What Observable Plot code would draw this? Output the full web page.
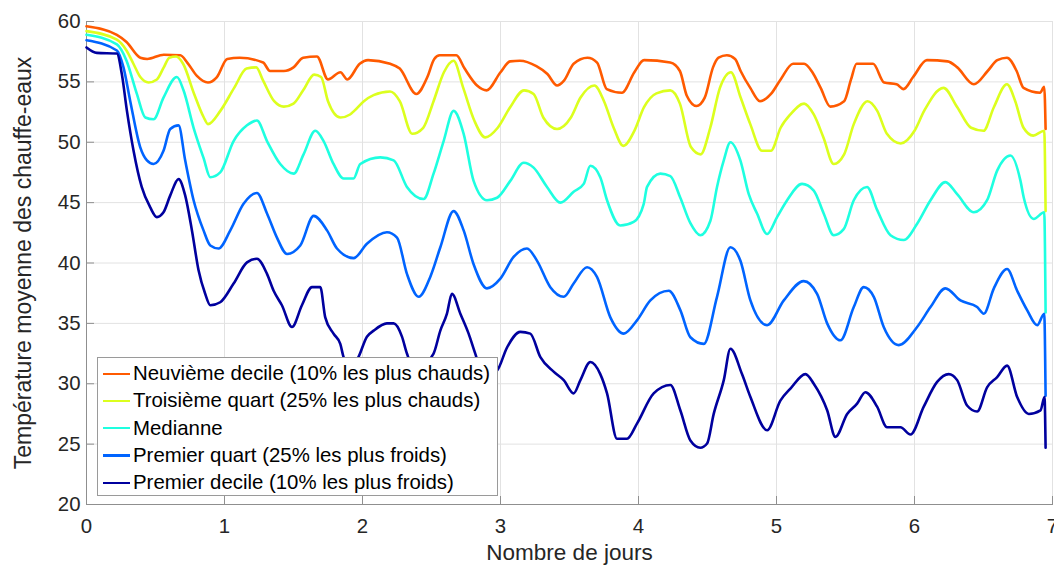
<!DOCTYPE html>
<html>
<head>
<meta charset="utf-8">
<script src="https://cdn.jsdelivr.net/npm/d3@7"></script>
<script src="https://cdn.jsdelivr.net/npm/@observablehq/plot@0.6"></script>
<style>
  html, body { margin: 0; padding: 0; background: #ffffff; }
  #wrap { position: relative; width: 1054px; height: 565px; font-family: "Liberation Sans", Arial, Helvetica, sans-serif; }
  #legend { position: absolute; left: 97px; top: 357px; width: 401px; height: 139px; box-sizing: border-box;
            border: 1px solid #9a9a9a; background: #ffffff; padding-top: 2px; }
  .row { height: 27.3px; display: flex; align-items: center; font-size: 20.4px; color: #000; white-space: nowrap; }
  .sw { width: 27px; height: 2.2px; margin-left: 5px; margin-right: 3px; }
</style>
</head>
<body>
<div id="wrap"><div id="chart"></div><div id="legend"></div></div>
<script>
// ---- tick labels / axis texts ----
const xTicks = [0, 1, 2, 3, 4, 5, 6, 7];
const yTicks = [20, 25, 30, 35, 40, 45, 50, 55, 60];
const xLabel = "Nombre de jours";
const yLabel = "Température moyenne des chauffe-eaux";

// ---- series names & colours ----
const seriesNames = [
  "Neuvième decile (10% les plus chauds)",
  "Troisième quart (25% les plus chauds)",
  "Medianne",
  "Premier quart (25% les plus froids)",
  "Premier decile (10% les plus froids)"
];
const seriesColors = ["#ff5a00", "#dcff1e", "#1effe0", "#0064ff", "#00009e"];

// ---- Neuvième decile ----
const d9Days = [0, 0.22, 0.29, 0.39, 0.44, 0.56, 0.68, 0.73, 0.80, 0.88, 0.945, 1.02, 1.11, 1.28, 1.33, 1.43, 1.50, 1.57, 1.67, 1.75, 1.84, 1.89, 1.98, 2.04, 2.20, 2.27, 2.39, 2.47, 2.52, 2.56, 2.68, 2.74, 2.83, 2.90, 3.00, 3.07, 3.14, 3.26, 3.34, 3.41, 3.46, 3.53, 3.63, 3.70, 3.77, 3.88, 3.97, 4.04, 4.23, 4.30, 4.35, 4.42, 4.48, 4.54, 4.58, 4.64, 4.70, 4.74, 4.81, 4.88, 4.96, 5.03, 5.12, 5.20, 5.26, 5.32, 5.39, 5.49, 5.54, 5.58, 5.70, 5.78, 5.87, 5.92, 5.99, 6.09, 6.24, 6.31, 6.43, 6.53, 6.60, 6.67, 6.74, 6.79, 6.91, 6.94, 6.95];
const d9Temp = [59.6, 58.9, 58.3, 57.0, 56.9, 57.25, 57.2, 56.6, 55.5, 54.95, 55.4, 56.9, 57.0, 56.6, 55.9, 55.9, 56.2, 57.0, 57.1, 55.2, 55.8, 55.2, 56.5, 56.8, 56.5, 56.1, 54.0, 55.4, 56.9, 57.2, 57.2, 56.1, 54.7, 54.3, 55.8, 56.7, 56.75, 56.3, 55.65, 54.7, 55.1, 56.5, 57.0, 56.6, 54.4, 54.1, 55.8, 56.8, 56.6, 55.9, 53.85, 53.0, 53.7, 56.2, 57.0, 57.2, 56.9, 55.9, 54.5, 53.4, 54.0, 55.2, 56.5, 56.5, 55.8, 54.5, 52.95, 53.4, 55.2, 56.5, 56.5, 54.95, 54.8, 54.4, 55.4, 56.8, 56.7, 56.2, 54.8, 55.9, 56.8, 57.0, 55.9, 54.5, 54.1, 54.6, 51.1];

// ---- Troisième quart ----
const q3Days = [0, 0.22, 0.29, 0.34, 0.39, 0.45, 0.51, 0.56, 0.60, 0.65, 0.70, 0.78, 0.85, 0.88, 0.97, 1.07, 1.16, 1.23, 1.28, 1.36, 1.43, 1.50, 1.57, 1.65, 1.70, 1.75, 1.84, 1.91, 1.94, 2.01, 2.08, 2.20, 2.27, 2.36, 2.44, 2.515, 2.59, 2.66, 2.73, 2.81, 2.89, 2.98, 3.07, 3.17, 3.24, 3.31, 3.41, 3.51, 3.58, 3.68, 3.75, 3.82, 3.89, 3.97, 4.04, 4.13, 4.23, 4.30, 4.38, 4.45, 4.52, 4.59, 4.67, 4.74, 4.81, 4.895, 4.96, 5.03, 5.10, 5.20, 5.27, 5.34, 5.415, 5.49, 5.56, 5.66, 5.73, 5.80, 5.90, 6.00, 6.07, 6.21, 6.31, 6.41, 6.50, 6.575, 6.67, 6.73, 6.79, 6.86, 6.94, 6.95];
const q3Temp = [59.2, 58.5, 57.6, 56.5, 55.4, 54.95, 55.2, 56.2, 57.0, 57.1, 56.5, 54.0, 52.05, 51.5, 52.6, 54.5, 56.1, 56.2, 55.1, 53.4, 52.95, 53.2, 54.3, 55.6, 55.4, 53.4, 52.05, 52.3, 52.6, 53.4, 53.9, 54.2, 53.4, 50.7, 51.2, 53.4, 55.8, 56.75, 54.5, 51.8, 50.4, 51.2, 52.9, 54.3, 54.0, 52.05, 51.1, 52.05, 53.7, 54.7, 53.4, 51.2, 49.7, 50.95, 52.9, 54.05, 54.3, 53.2, 49.6, 49.0, 51.2, 54.5, 55.8, 53.7, 51.5, 49.3, 49.3, 51.2, 52.3, 53.2, 52.3, 50.4, 48.2, 49.0, 51.5, 53.4, 52.6, 50.7, 49.9, 50.95, 52.6, 54.5, 52.9, 51.2, 50.95, 52.9, 54.8, 53.4, 51.2, 50.55, 50.95, 44.3];

// ---- Medianne ----
const medDays = [0, 0.22, 0.29, 0.365, 0.426, 0.486, 0.558, 0.655, 0.703, 0.776, 0.848, 0.897, 0.969, 1.066, 1.163, 1.235, 1.308, 1.404, 1.501, 1.573, 1.658, 1.718, 1.79, 1.863, 1.935, 1.984, 2.129, 2.226, 2.322, 2.443, 2.515, 2.588, 2.66, 2.733, 2.805, 2.902, 2.975, 3.071, 3.168, 3.24, 3.337, 3.434, 3.53, 3.603, 3.651, 3.723, 3.772, 3.868, 3.965, 4.038, 4.062, 4.158, 4.231, 4.303, 4.376, 4.448, 4.521, 4.569, 4.618, 4.666, 4.738, 4.799, 4.859, 4.932, 5.004, 5.077, 5.185, 5.27, 5.342, 5.415, 5.487, 5.56, 5.656, 5.729, 5.826, 5.922, 6.019, 6.116, 6.224, 6.309, 6.43, 6.526, 6.599, 6.695, 6.768, 6.792, 6.864, 6.94, 6.95];
const medTemp = [58.9, 58.1, 56.75, 54.0, 52.05, 51.9, 53.7, 55.4, 54.3, 51.2, 48.7, 47.1, 47.5, 50.1, 51.4, 51.8, 50.1, 48.2, 47.4, 49.0, 50.95, 50.1, 48.2, 47.0, 47.0, 48.2, 48.75, 48.5, 46.3, 45.3, 47.4, 50.1, 52.6, 50.7, 46.8, 45.2, 45.4, 46.8, 48.3, 47.9, 46.3, 45.0, 45.9, 46.55, 48.05, 47.1, 45.2, 43.1, 43.4, 44.9, 46.3, 47.4, 47.2, 45.4, 43.3, 42.3, 43.5, 46.3, 48.5, 50.0, 48.5, 45.7, 44.1, 42.4, 43.8, 45.2, 46.55, 46.0, 44.1, 42.3, 42.8, 45.2, 46.3, 44.4, 42.3, 41.9, 43.25, 45.2, 46.7, 45.7, 44.2, 45.2, 47.65, 48.9, 46.8, 45.4, 43.65, 44.2, 35.9];

// ---- Premier quart ----
const q1Days = [0, 0.22, 0.268, 0.317, 0.389, 0.438, 0.486, 0.558, 0.607, 0.667, 0.715, 0.776, 0.848, 0.897, 0.957, 1.042, 1.138, 1.235, 1.308, 1.38, 1.453, 1.549, 1.646, 1.743, 1.815, 1.936, 2.032, 2.177, 2.25, 2.322, 2.407, 2.491, 2.564, 2.66, 2.733, 2.805, 2.902, 2.999, 3.095, 3.192, 3.264, 3.361, 3.458, 3.53, 3.627, 3.699, 3.796, 3.893, 3.989, 4.086, 4.219, 4.303, 4.376, 4.473, 4.569, 4.666, 4.738, 4.811, 4.932, 5.053, 5.197, 5.294, 5.367, 5.463, 5.56, 5.632, 5.705, 5.777, 5.886, 6.019, 6.116, 6.224, 6.333, 6.454, 6.502, 6.575, 6.671, 6.744, 6.816, 6.889, 6.94, 6.95];
const q1Temp = [58.45, 57.6, 56.2, 53.4, 49.6, 48.5, 48.2, 49.3, 51.1, 51.4, 48.5, 45.2, 42.7, 41.45, 41.2, 42.7, 44.9, 45.8, 44.1, 42.1, 40.75, 41.45, 43.9, 42.7, 41.2, 40.4, 41.6, 42.55, 42.1, 39.1, 37.2, 38.85, 41.3, 44.3, 42.7, 39.9, 37.9, 38.7, 40.5, 41.2, 40.2, 38.0, 37.2, 38.3, 39.65, 38.85, 35.5, 34.15, 35.25, 36.9, 37.7, 36.1, 33.85, 33.3, 37.2, 41.3, 40.2, 36.9, 34.85, 36.9, 38.5, 37.45, 35.0, 33.6, 36.35, 38.0, 37.2, 34.7, 33.2, 34.7, 36.35, 37.9, 36.9, 36.35, 35.8, 37.9, 39.5, 37.7, 36.1, 34.85, 35.8, 29.0];

// ---- Premier decile ----
const d1Days = [0, 0.075, 0.22, 0.256, 0.293, 0.341, 0.40, 0.462, 0.51, 0.558, 0.607, 0.667, 0.715, 0.764, 0.812, 0.86, 0.897, 0.969, 1.066, 1.163, 1.235, 1.308, 1.356, 1.416, 1.489, 1.561, 1.634, 1.694, 1.73, 1.79, 1.839, 1.863, 1.90, 1.96, 2.032, 2.081, 2.177, 2.226, 2.286, 2.322, 2.36, 2.44, 2.515, 2.564, 2.612, 2.648, 2.709, 2.769, 2.817, 2.88, 2.975, 3.047, 3.144, 3.216, 3.289, 3.385, 3.458, 3.53, 3.579, 3.651, 3.723, 3.772, 3.844, 3.917, 3.989, 4.11, 4.231, 4.303, 4.376, 4.448, 4.497, 4.545, 4.618, 4.666, 4.75, 4.811, 4.932, 5.028, 5.101, 5.21, 5.27, 5.367, 5.427, 5.512, 5.584, 5.644, 5.729, 5.801, 5.898, 5.971, 6.067, 6.164, 6.248, 6.309, 6.381, 6.454, 6.526, 6.599, 6.671, 6.744, 6.828, 6.913, 6.942, 6.95];
const d1Temp = [57.85, 57.4, 57.35, 55.65, 52.6, 49.3, 46.3, 44.6, 43.8, 44.2, 45.6, 46.95, 45.6, 42.7, 39.4, 37.45, 36.5, 36.75, 38.3, 40.05, 40.35, 39.1, 37.7, 36.5, 34.7, 36.5, 38.0, 38.0, 35.5, 34.15, 33.3, 32.2, 31.6, 32.0, 33.9, 34.4, 35.0, 35.0, 33.9, 32.5, 31.6, 31.7, 32.5, 34.4, 35.8, 37.45, 35.8, 34.15, 32.5, 30.6, 31.1, 33.0, 34.3, 34.15, 32.2, 31.0, 30.3, 29.2, 30.3, 31.8, 30.8, 29.2, 25.45, 25.45, 26.7, 29.2, 29.9, 27.8, 25.3, 24.7, 25.05, 27.5, 30.3, 32.9, 30.8, 28.9, 26.15, 28.6, 29.6, 30.8, 30.0, 27.8, 25.6, 27.5, 28.35, 29.3, 28.1, 26.4, 26.4, 25.8, 28.1, 30.15, 30.8, 30.3, 28.2, 27.7, 29.7, 30.55, 31.5, 28.9, 27.5, 27.8, 28.9, 24.7];

const seriesDays = [d9Days, q3Days, medDays, q1Days, d1Days];
const seriesTemp = [d9Temp, q3Temp, medTemp, q1Temp, d1Temp];

const rows = seriesNames.flatMap((name, s) =>
  seriesDays[s].map((d, i) => ({serie: name, day: d, temp: seriesTemp[s][i]}))
);

const W = 1054, H = 565, mL = 86, mR = 2, mT = 21, mB = 61;
const innerW = W - mL - mR, innerH = H - mT - mB;
const axisGray = "#8f8f8f";
const textCol = "#262626";

const chart = Plot.plot({
  width: W, height: H,
  marginLeft: mL, marginRight: mR, marginTop: mT, marginBottom: mB,
  style: {fontFamily: '"Liberation Sans", Arial, Helvetica, sans-serif', fontSize: "20.4px", color: textCol, background: "#ffffff"},
  x: {domain: [0, 7]},
  y: {domain: [20, 60]},
  color: {domain: seriesNames, range: seriesColors},
  marks: [
    Plot.gridX(xTicks, {stroke: "#e2e2e2", strokeOpacity: 1, strokeWidth: 1}),
    Plot.gridY(yTicks, {stroke: "#e2e2e2", strokeOpacity: 1, strokeWidth: 1}),
    Plot.axisX(xTicks, {tickSize: 0, tickPadding: 14, fontSize: 20.4, fill: textCol, tickFormat: d3.format("d"), label: null}),
    Plot.axisY(yTicks, {tickSize: 0, tickPadding: 6, fontSize: 20.4, fill: textCol, tickFormat: d3.format("d"), label: null}),
    Plot.text([xLabel], {text: d => d, frameAnchor: "bottom", lineAnchor: "top", dy: 40, fontSize: 22.5, fill: textCol}),
    Plot.text([yLabel], {text: d => d, frameAnchor: "left", rotate: -90, lineAnchor: "top", textAnchor: "middle", dx: -72, fontSize: 23, fill: textCol}),
    Plot.ruleX(xTicks, {stroke: axisGray, insetTop: innerH - 8}),
    Plot.ruleY(yTicks, {stroke: axisGray, insetRight: innerW - 8}),
    Plot.frame({anchor: "bottom", stroke: axisGray}),
    Plot.frame({anchor: "left", stroke: axisGray}),
    Plot.line(rows, {x: "day", y: "temp", z: "serie", stroke: "serie", strokeWidth: 2.6, strokeLinejoin: "round", curve: "monotone-x"})
  ]
});
document.getElementById("chart").appendChild(chart);

const legend = document.getElementById("legend");
seriesNames.forEach((name, i) => {
  const row = document.createElement("div");
  row.className = "row";
  const sw = document.createElement("span");
  sw.className = "sw";
  sw.style.background = seriesColors[i];
  const t = document.createElement("span");
  t.textContent = name;
  row.appendChild(sw); row.appendChild(t);
  legend.appendChild(row);
});
</script>
</body>
</html>
